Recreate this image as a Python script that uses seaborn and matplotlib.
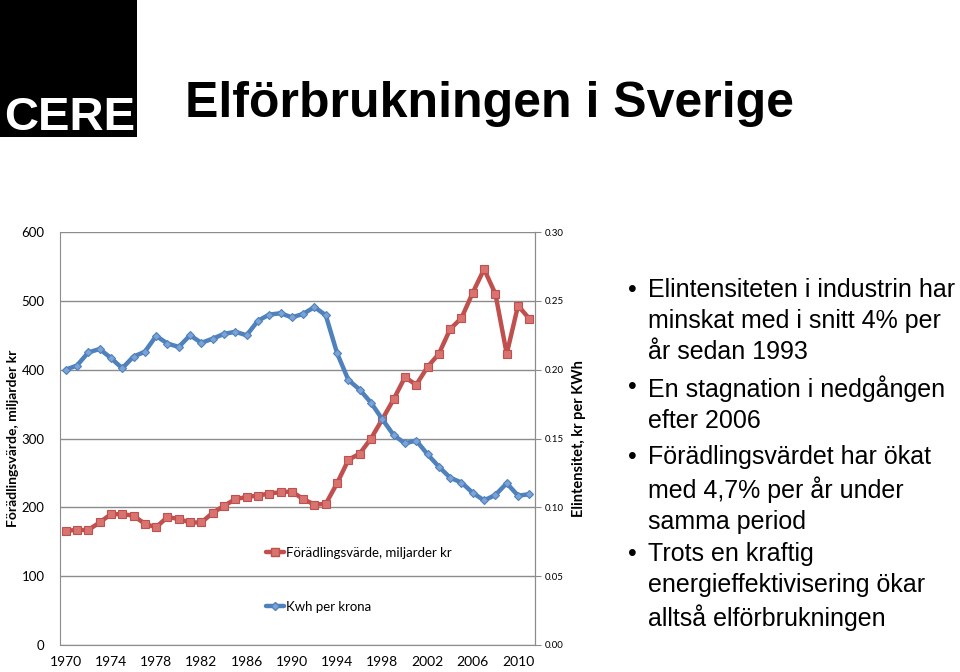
import matplotlib
matplotlib.use("Agg")
import matplotlib.pyplot as plt
from matplotlib.lines import Line2D
import numpy as np
import pandas as pd
import seaborn as sns

# Data
years = list(range(1970, 2012))
foradling = [166, 167, 167, 178, 190, 190, 188, 176, 171, 186,
             183, 178, 178, 192, 202, 212, 215, 217, 220, 222,
             223, 212, 204, 205, 235, 269, 278, 300, 328, 357,
             389, 378, 404, 423, 459, 475, 512, 546, 510, 423,
             493, 474]
kwh_per_krona = [0.2000, 0.2030, 0.2125, 0.2150, 0.2085, 0.2010, 0.2095, 0.2130, 0.2245, 0.2190,
                 0.2165, 0.2250, 0.2195, 0.2225, 0.2260, 0.2275, 0.2250, 0.2355, 0.2400, 0.2410,
                 0.2380, 0.2405, 0.2455, 0.2395, 0.2120, 0.1925, 0.1855, 0.1760, 0.1640, 0.1525,
                 0.1465, 0.1485, 0.1385, 0.1295, 0.1215, 0.1180, 0.1105, 0.1050, 0.1090, 0.1175,
                 0.1085, 0.1095]
left_ticks = [0, 100, 200, 300, 400, 500, 600]
right_ticks = [0.00, 0.05, 0.10, 0.15, 0.20, 0.25, 0.30]
xtick_years = list(range(1970, 2011, 4))
red_label = "Förädlingsvärde, miljarder kr"
blue_label = "Kwh per krona"
bullets = [
    "Elintensiteten i industrin har\nminskat med i snitt 4% per\når sedan 1993",
    "En stagnation i nedgången\nefter 2006",
    "Förädlingsvärdet har ökat\nmed 4,7% per år under\nsamma period",
    "Trots en kraftig\nenergieffektivisering ökar\nalltså elförbrukningen",
]

df = pd.DataFrame({"year": years, "foradling": foradling, "kwh": kwh_per_krona})

sns.set_style("white")
plt.rcParams["font.family"] = ["Lato", "DejaVu Sans"]
plt.rcParams["text.color"] = "black"
plt.rcParams["axes.labelcolor"] = "black"
plt.rcParams["xtick.color"] = "black"
plt.rcParams["ytick.color"] = "black"

RED = "#C0504D"
RED_M = "#D9736F"
BLUE = "#4F81BD"
BLUE_M = "#7BA3D6"
GRID = "#8C8C8C"

fig = plt.figure(figsize=(9.6, 6.72), dpi=100)

# logo
logo = fig.add_axes([0, 1 - 137 / 672, 137 / 960, 137 / 672])
logo.set_facecolor("black")
logo.set_xticks([])
logo.set_yticks([])
for s in logo.spines.values():
    s.set_visible(False)
logo.text(0.03, 0.05, "CERE", color="white", fontsize=34, fontweight="bold",
          family="Liberation Sans", transform=logo.transAxes, ha="left", va="baseline")

fig.text(185 / 960, 1 - 117 / 672, "Elförbrukningen i Sverige", fontsize=36,
         fontweight="bold", family="Liberation Sans", ha="left", va="baseline",
         color="black")

ax = fig.add_axes([60 / 960, 27 / 672, 475 / 960, 413 / 672])
ax2 = ax.twinx()

sns.lineplot(data=df, x="year", y="foradling", ax=ax, color=RED, linewidth=3.2,
             marker="s", markersize=6, markerfacecolor=RED_M, markeredgecolor=RED,
             markeredgewidth=0.8, zorder=3)
sns.lineplot(data=df, x="year", y="kwh", ax=ax2, color=BLUE, linewidth=3.2,
             marker="D", markersize=4.5, markerfacecolor=BLUE_M, markeredgecolor=BLUE,
             markeredgewidth=0.8, zorder=3)

ax.set_xlim(1969.5, 2011.5)
ax.set_ylim(0, 600)
ax2.set_ylim(0, 0.30)
ax.set_yticks(left_ticks)
ax.set_yticklabels([str(v) for v in left_ticks], fontsize=9.5)
ax2.set_yticks(right_ticks)
ax2.set_yticklabels([f"{v:.2f}" for v in right_ticks], fontsize=7)
ax.set_xticks(xtick_years)
ax.set_xticklabels([str(y) for y in xtick_years], fontsize=10)
ax.set_xticks(np.arange(1969.5, 2012, 1), minor=True)
ax.tick_params(axis="x", which="major", length=0, pad=8)
ax.tick_params(axis="x", which="minor", length=4, color=GRID, direction="out")
ax.tick_params(axis="y", length=0, pad=11)
ax2.tick_params(axis="y", length=4, color=GRID, direction="out", pad=3)

ax.grid(axis="y", color=GRID, linewidth=1)
ax.set_axisbelow(True)
for a in (ax, ax2):
    a.spines["top"].set_visible(False)
    a.spines["left"].set_color(GRID)
    a.spines["right"].set_color(GRID)
    a.spines["bottom"].set_color(GRID)
ax2.spines["left"].set_visible(False)
ax2.spines["bottom"].set_visible(False)

ax.set_xlabel("")
ax.set_ylabel("Förädlingsvärde, miljarder kr", fontsize=10, fontweight="bold")
ax2.set_ylabel("Elintensitet, kr per KWh", fontsize=10.5, fontweight="bold")
ax.yaxis.set_label_coords(-0.086, 0.5)
ax2.yaxis.set_label_coords(1.077, 0.5)

handles = [
    Line2D([], [], color=RED, linewidth=3.2, marker="s", markersize=6,
           markerfacecolor=RED_M, markeredgecolor=RED),
    Line2D([], [], color=BLUE, linewidth=3.2, marker="D", markersize=4.5,
           markerfacecolor=BLUE_M, markeredgecolor=BLUE),
]
ax2.legend(handles, [red_label, blue_label], loc="upper left",
           bbox_to_anchor=(194 / 475, 110 / 413), frameon=False, fontsize=9.5,
           handlelength=1.4, handletextpad=0.15, labelspacing=3.2)

# bullet text
ys = [290, 387, 457, 554]
for y, txt in zip(ys, bullets):
    fig.text(628 / 960, 1 - y / 672, "•", fontsize=18, family="Liberation Sans",
             ha="left", va="center")
    fig.text(648 / 960, 1 - (y - 12) / 672, txt, fontsize=18, family="Liberation Sans",
             ha="left", va="top", linespacing=1.36)

fig.savefig("out.png", dpi=100)
